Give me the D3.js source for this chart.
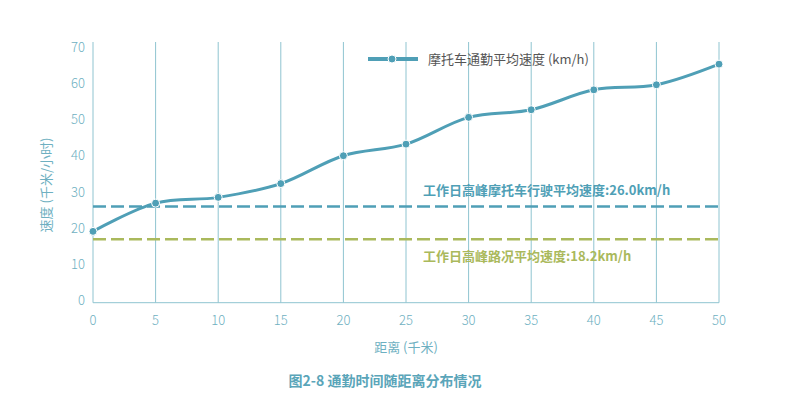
<!DOCTYPE html>
<html>
<head>
  <meta charset="UTF-8">
  <title>通勤时间随距离分布情况</title>
  <style>
    body { margin: 0; background: #fff; }
    svg { display: block; font-family: "Noto Sans CJK SC", "Noto Sans", sans-serif; }
  </style>
</head>
<body>
<svg></svg>
<script src="https://d3js.org/d3.v7.min.js"></script>
<script>
    let width = 792, height = 395;

    // data
    var distances = [0, 5, 10, 15, 20, 25, 30, 35, 40, 45, 50];
    var speeds = [19.7, 27.5, 29.1, 32.9, 40.6, 43.8, 51.2, 53.3, 58.8, 60.2, 65.9];
    var xTicks = [0, 5, 10, 15, 20, 25, 30, 35, 40, 45, 50];
    var yTicks = [0, 10, 20, 30, 40, 50, 60, 70];
    var refValues = [26.6, 17.5];
    var refLabels = ["工作日高峰摩托车行驶平均速度:26.0km/h", "工作日高峰路况平均速度:18.2km/h"];
    var refColors = ["#4f9fb6", "#aab95c"];
    var seriesName = "摩托车通勤平均速度 (km/h)";

    let svg = d3.select("svg")
        .attr("width", width)
        .attr("height", height)
        .attr("viewBox", "0 0 " + width + " " + height);

    var plotLeft = 93, plotRight = 719, plotTop = 42, plotBottom = 302.7;
    var lineColor = "#4f9fb6", gridColor = "#8fc4d0", tickColor = "#6eb0c1";

    var x = d3.scaleLinear().domain([0, 50]).range([plotLeft, plotRight]);
    var y = d3.scaleLinear().domain([0, 70]).range([plotBottom, 49.3]);

    // vertical grid lines
    svg.append("g")
        .selectAll("line")
        .data(xTicks)
        .enter()
        .append("line")
        .attr("x1", d => x(d))
        .attr("x2", d => x(d))
        .attr("y1", plotTop)
        .attr("y2", plotBottom)
        .attr("stroke", gridColor)
        .attr("stroke-width", 1);

    // x axis line
    svg.append("line")
        .attr("x1", plotLeft).attr("x2", plotRight)
        .attr("y1", plotBottom).attr("y2", plotBottom)
        .attr("stroke", gridColor).attr("stroke-width", 1);

    // tick labels
    svg.append("g")
        .selectAll("text")
        .data(yTicks)
        .enter()
        .append("text")
        .attr("x", 85)
        .attr("y", d => y(d) - 2)
        .attr("dy", "0.35em")
        .attr("text-anchor", "end")
        .attr("fill", tickColor)
        .attr("font-size", 13)
        .attr("font-weight", 300)
        .text(d => d);

    svg.append("g")
        .selectAll("text")
        .data(xTicks)
        .enter()
        .append("text")
        .attr("x", d => x(d))
        .attr("y", 320)
        .attr("dy", "0.35em")
        .attr("text-anchor", "middle")
        .attr("fill", tickColor)
        .attr("font-size", 13)
        .attr("font-weight", 300)
        .text(d => d);

    // axis titles
    svg.append("text")
        .attr("x", 406)
        .attr("y", 347)
        .attr("dy", "0.35em")
        .attr("text-anchor", "middle")
        .attr("fill", tickColor)
        .attr("font-size", 13)
        .text("距离 (千米)");

    svg.append("text")
        .attr("transform", "translate(46,185) rotate(-90)")
        .attr("dy", "0.35em")
        .attr("text-anchor", "middle")
        .attr("fill", tickColor)
        .attr("font-size", 13)
        .text("速度 (千米/小时)");

    // reference lines
    svg.append("g")
        .selectAll("line")
        .data(refValues)
        .enter()
        .append("line")
        .attr("x1", plotLeft).attr("x2", plotRight)
        .attr("y1", d => y(d)).attr("y2", d => y(d))
        .attr("stroke", (d, i) => refColors[i])
        .attr("stroke-width", 2.5)
        .attr("stroke-dasharray", "13,5");

    svg.append("g")
        .selectAll("text")
        .data(refValues)
        .enter()
        .append("text")
        .attr("x", 423)
        .attr("y", (d, i) => i == 0 ? y(d) - 16 : y(d) + 17)
        .attr("dy", "0.35em")
        .attr("fill", (d, i) => refColors[i])
        .attr("font-size", 13)
        .attr("font-weight", "bold")
        .text((d, i) => refLabels[i]);

    // series
    var points = distances.map((d, i) => [d, speeds[i]]);
    var line = d3.line()
        .x(d => x(d[0]))
        .y(d => y(d[1]))
        .curve(d3.curveCatmullRom.alpha(0.5));

    svg.append("path")
        .datum(points)
        .attr("d", line)
        .attr("fill", "none")
        .attr("stroke", lineColor)
        .attr("stroke-width", 3);

    svg.append("g")
        .selectAll("circle")
        .data(points)
        .enter()
        .append("circle")
        .attr("cx", d => x(d[0]))
        .attr("cy", d => y(d[1]))
        .attr("r", 4)
        .attr("fill", lineColor)
        .attr("stroke", "#fff")
        .attr("stroke-width", 1);

    // legend
    var lg = svg.append("g");
    lg.append("line")
        .attr("x1", 368).attr("x2", 418)
        .attr("y1", 59).attr("y2", 59)
        .attr("stroke", lineColor).attr("stroke-width", 4);
    lg.append("circle")
        .attr("cx", 392).attr("cy", 59).attr("r", 4)
        .attr("fill", lineColor).attr("stroke", "#fff").attr("stroke-width", 1);
    lg.append("text")
        .attr("x", 428).attr("y", 59)
        .attr("dy", "0.35em")
        .attr("fill", "#555")
        .attr("font-size", 13)
        .text(seriesName);

    // caption
    svg.append("text")
        .attr("x", 385)
        .attr("y", 381)
        .attr("dy", "0.35em")
        .attr("text-anchor", "middle")
        .attr("fill", "#5aa5b9")
        .attr("font-size", 14)
        .attr("font-weight", "bold")
        .text("图2-8 通勤时间随距离分布情况");
</script>
</body>
</html>
